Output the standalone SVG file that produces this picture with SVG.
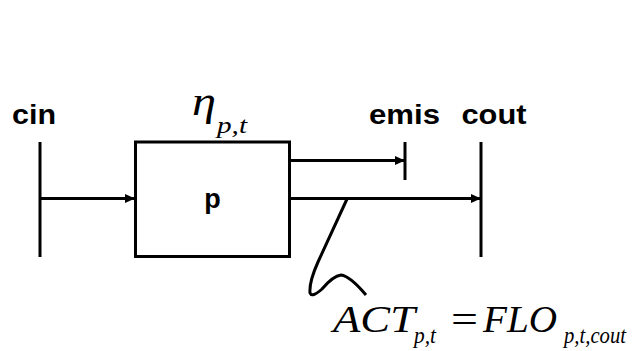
<svg xmlns="http://www.w3.org/2000/svg" width="637" height="351" viewBox="0 0 637 351">
<defs>
<style>
.ln{stroke:#000;stroke-width:3;fill:none}
.lbl{font-family:"Liberation Sans",Arial,sans-serif;font-weight:bold;font-size:27px;fill:#000}
.math{font-family:"Liberation Serif","Times New Roman",serif;font-style:italic;fill:#000}
</style>
<marker id="ah" viewBox="0 0 10 9" refX="10" refY="4.5" markerWidth="10" markerHeight="9" markerUnits="userSpaceOnUse" orient="auto">
<path d="M0,0 L10,4.5 L0,9 Z" fill="#000"/>
</marker>
</defs>
<rect width="637" height="351" fill="#fff"/>
<g id="cin">
<line class="ln" x1="40" y1="142" x2="40" y2="257"/>
<text class="lbl" x="12" y="124" textLength="44" lengthAdjust="spacingAndGlyphs">cin</text>
</g>
<g id="p">
<rect class="ln" x="135.5" y="142" width="154" height="114.5"/>
<text class="lbl" x="212.5" y="208" font-size="26" text-anchor="middle">p</text>
<text class="math" x="192" y="115" font-size="42" textLength="24" lengthAdjust="spacingAndGlyphs">η</text>
<text class="math" x="217" y="133" font-size="24" textLength="30" lengthAdjust="spacingAndGlyphs">p,t</text>
</g>
<g id="emis">
<line class="ln" x1="405" y1="142" x2="405" y2="180"/>
<text class="lbl" x="369" y="124" textLength="71" lengthAdjust="spacingAndGlyphs">emis</text>
</g>
<g id="cout">
<line class="ln" x1="481" y1="142" x2="481" y2="257"/>
<text class="lbl" x="461.5" y="124" textLength="65" lengthAdjust="spacingAndGlyphs">cout</text>
</g>
<g id="connectors">
<line class="ln" x1="40" y1="198.5" x2="135" y2="198.5" marker-end="url(#ah)"/>
<line class="ln" x1="289" y1="160.5" x2="405" y2="160.5" marker-end="url(#ah)"/>
<line class="ln" x1="289" y1="198.5" x2="481" y2="198.5" marker-end="url(#ah)"/>
<path class="ln" stroke-width="2.2" d="M347,199 L318,262 Q309,282 310,293 Q312,298 322,289 Q333,276 341,275 Q350,276 366,295"/>
</g>
<g id="formula">
<text class="math" x="333" y="332" font-size="37" textLength="82" lengthAdjust="spacingAndGlyphs">ACT</text>
<text class="math" x="414" y="343" font-size="24" textLength="22" lengthAdjust="spacingAndGlyphs">p,t</text>
<text x="451" y="332" font-family="'Liberation Serif','Times New Roman',serif" font-size="37" textLength="27" lengthAdjust="spacingAndGlyphs">=</text>
<text class="math" x="483" y="332" font-size="37" textLength="74" lengthAdjust="spacingAndGlyphs">FLO</text>
<text class="math" x="564" y="343" font-size="24" textLength="62" lengthAdjust="spacingAndGlyphs">p,t,cout</text>
</g>
</svg>
